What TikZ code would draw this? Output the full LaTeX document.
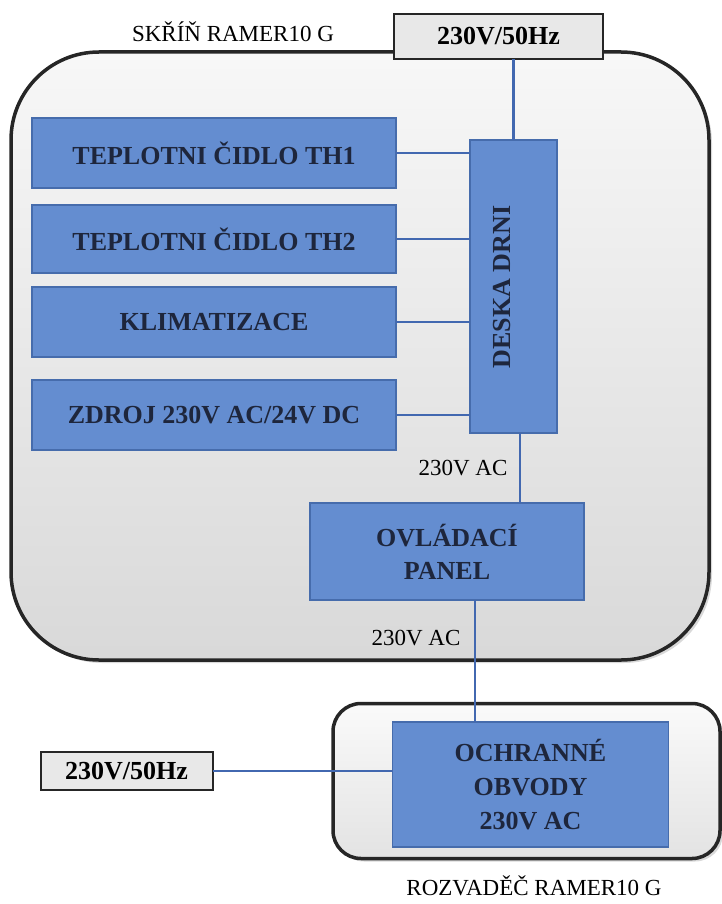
\documentclass[tikz,border=0pt]{standalone}
\usepackage{fontspec}
\setmainfont{Liberation Serif}
\usetikzlibrary{positioning,shadows,calc}
\definecolor{BoxBlue}{RGB}{100,141,208}
\definecolor{BoxEdge}{RGB}{70,108,172}
\definecolor{WireBlue}{RGB}{66,104,176}
\definecolor{TextNavy}{RGB}{30,38,60}
\tikzset{
  blok/.style={draw=BoxEdge,fill=BoxBlue,line width=1.2pt,text=TextNavy,
    font=\bfseries\fontsize{26}{33}\selectfont,align=center,inner sep=0pt,outer sep=0pt},
  sit/.style={draw=black!85,fill=black!9,line width=2pt,
    font=\bfseries\fontsize{26}{30}\selectfont,inner sep=0pt,outer sep=0pt},
  skrin/.style={draw=black!85,line width=3.5pt,top color=black!3,bottom color=black!15,
    inner sep=0pt,outer sep=0pt,
    drop shadow={shadow xshift=3pt,shadow yshift=-3pt,opacity=0.3}},
  popis/.style={font=\fontsize{23}{28}\selectfont,inner sep=0pt},
  vodic/.style={draw=WireBlue,line width=2.5pt}
}

\begin{document}
\begin{tikzpicture}[x=1pt,y=-1pt]
  \useasboundingbox (0,0) rectangle (721,904);

  % skrine
  \node[skrin,rounded corners=88pt,minimum width=698pt,minimum height=608pt] (skrinHorni) at (360,356) {};
  \node[skrin,rounded corners=28pt,minimum width=387pt,minimum height=155pt,
        top color=black!2,bottom color=black!11] (rozvadec) at (526.5,781) {};

  % napajeni
  \node[sit,minimum width=209pt,minimum height=45pt] (sitHorni) at (498.5,36.5) {230V/50Hz};
  \node[sit,minimum width=172pt,minimum height=38pt] (sitDolni) at (126.5,771) {230V/50Hz};

  % bloky
  \node[blok,minimum width=364pt,minimum height=70pt] (th1) at (214,153) {TEPLOTNI ČIDLO TH1};
  \node[blok,minimum width=364pt,minimum height=68pt] (th2) at (214,239) {TEPLOTNI ČIDLO TH2};
  \node[blok,minimum width=364pt,minimum height=70pt] (klima) at (214,322) {KLIMATIZACE};
  \node[blok,minimum width=364pt,minimum height=70pt] (zdroj) at (214,415) {ZDROJ 230V AC/24V DC};
  \node[blok,minimum width=87pt,minimum height=293pt] (deska) at (513.5,286.5) {};
  \node[blok,rotate=90,fill=none,draw=none] at (502,287) {DESKA DRNI};
  \node[blok,minimum width=274pt,minimum height=97pt] (panel) at (447,551.5) {OVLÁDACÍ\\PANEL};
  \node[blok,minimum width=276pt,minimum height=125pt,font=\bfseries\fontsize{26}{34}\selectfont]
        (ochrana) at (530.5,784.5) {OCHRANNÉ\\OBVODY\\230V AC};

  % popisky
  \node[popis,anchor=base] (nazevSkrin) at (233,42) {SKŘÍŇ RAMER10 G};
  \node[popis,anchor=base] (nazevRozvadec) at (534,895) {ROZVADĚČ RAMER10 G};
  \node[popis,anchor=base] (ac1) at (463,475) {230V AC};
  \node[popis,anchor=base] (ac2) at (416,645) {230V AC};

  % vodice
  \draw[vodic] (deska.north |- sitHorni.south) -- (deska.north);
  \draw[vodic] (th1.east) -- (th1.east -| deska.west);
  \draw[vodic] (th2.east) -- (th2.east -| deska.west);
  \draw[vodic] (klima.east) -- (klima.east -| deska.west);
  \draw[vodic] (zdroj.east) -- (zdroj.east -| deska.west);
  \draw[vodic] ([xshift=6.5pt]deska.south) -- ([xshift=6.5pt]deska.south |- panel.north);
  \draw[vodic] ([xshift=28pt]panel.south) -- ([xshift=28pt]panel.south |- ochrana.north);
  \draw[vodic] (sitDolni.east) -- (sitDolni.east -| ochrana.west);
\end{tikzpicture}
\end{document}
